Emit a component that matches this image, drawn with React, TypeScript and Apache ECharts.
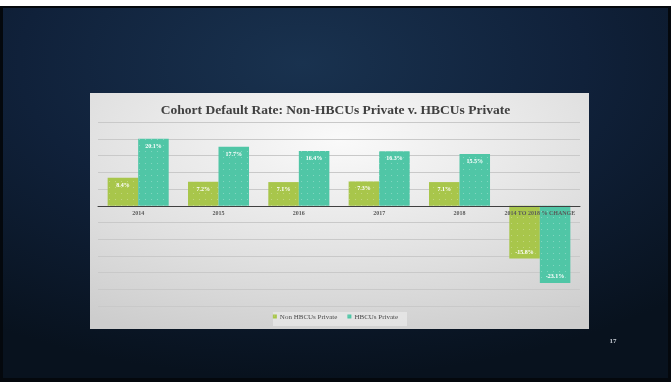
import React, { useEffect, useRef } from "react";
import * as echarts from "echarts";

const categories = ["2014", "2015", "2016", "2017", "2018", "2014 TO 2018 % CHANGE"];
const nonHbcuPrivate = [8.4, 7.2, 7.1, 7.3, 7.1, -15.8];
const hbcuPrivate = [20.1, 17.7, 16.4, 16.3, 15.5, -23.1];
const seriesNames = ["Non HBCUs Private", "HBCUs Private"];
const titleText = "Cohort Default Rate: Non-HBCUs Private v. HBCUs Private";
const pageNumber = "17";

const SERIF = "'Liberation Serif', 'Times New Roman', serif";

function makeData(values: number[]) {
  return values.map((v) => ({
    value: v,
    label: { position: v < 0 ? "insideBottom" : "insideTop" },
  }));
}

export default function App() {
  const ref = useRef<HTMLDivElement>(null);
  useEffect(() => {
    if (!ref.current) return;
    const chart = echarts.init(ref.current, null, { renderer: "svg" });
    const decal = (c: string) => ({
      symbol: "rect",
      symbolSize: 0.35,
      dashArrayX: 3,
      dashArrayY: 3,
      color: c,
    });
    const labelStyle = {
      show: true,
      distance: 4,
      color: "#ffffff",
      fontFamily: SERIF,
      fontWeight: "bold",
      fontSize: 6,
      formatter: (p: any) => `${Number(p.value).toFixed(1)}%`,
    };
    chart.setOption({
      animation: false,
      graphic: [
        { type: "rect", z: -10, shape: { x: 0, y: 0, width: 671, height: 382 }, style: { fill: "#ffffff" } },
        { type: "rect", z: -10, shape: { x: 0, y: 6, width: 671, height: 376 }, style: { fill: "#04080d" } },
        {
          type: "rect",
          z: -10,
          shape: { x: 3, y: 8, width: 665, height: 370 },
          style: {
            fill: new echarts.graphic.RadialGradient(0.45, 0.15, 0.85, [
              { offset: 0, color: "#19324f" },
              { offset: 0.5, color: "#10213a" },
              { offset: 1, color: "#08121e" },
            ]),
          },
        },
        {
          type: "rect",
          z: -9,
          shape: { x: 90, y: 93, width: 499, height: 236 },
          style: {
            fill: new echarts.graphic.RadialGradient(0.5, 0.2, 0.9, [
              { offset: 0, color: "#fafafa" },
              { offset: 0.5, color: "#e4e4e4" },
              { offset: 1, color: "#cdcdcd" },
            ]),
          },
        },
        {
          type: "rect",
          z: -8,
          shape: { x: 273, y: 312, width: 134, height: 14 },
          style: { fill: "rgba(240,240,240,0.55)" },
        },
        {
          type: "text",
          x: 613,
          y: 341,
          style: {
            text: pageNumber,
            fill: "#c7ccd4",
            font: `bold 7px ${SERIF}`,
            align: "center",
            verticalAlign: "middle",
          },
        },
      ],
      title: {
        text: titleText,
        left: "center",
        top: 97,
        textStyle: {
          fontFamily: SERIF,
          fontWeight: "bold",
          fontSize: 13.5,
          color: "#404040",
        },
      },
      grid: [
        { left: 98, right: 91, top: 122.3, bottom: 76, containLabel: false },
        { left: 98, right: 91, top: 122.3, bottom: 176.7, containLabel: false },
      ],
      legend: {
        bottom: 57,
        left: "center",
        itemWidth: 4,
        itemHeight: 4,
        itemGap: 10,
        icon: "rect",
        textStyle: { fontFamily: SERIF, fontSize: 7, color: "#4a4a4a", padding: [0, 0, 0, -2] },
        data: seriesNames,
      },
      xAxis: [
        {
          type: "category",
          gridIndex: 0,
          data: categories,
          z: 5,
          axisLine: { show: true, onZero: true, lineStyle: { color: "#404040", width: 1 } },
          axisTick: { show: false },
          axisLabel: { show: false },
        },
        {
          type: "category",
          gridIndex: 1,
          data: categories,
          position: "bottom",
          z: 10,
          axisLine: { show: false },
          axisTick: { show: false },
          axisLabel: {
            interval: 0,
            margin: 5,
            fontFamily: SERIF,
            fontWeight: "bold",
            fontSize: 6,
            color: "#595959",
          },
        },
      ],
      yAxis: [
        {
          type: "value",
          gridIndex: 0,
          min: -30,
          max: 25,
          interval: 5,
          axisLabel: { show: false },
          axisLine: { show: false },
          axisTick: { show: false },
          splitLine: { lineStyle: { color: "#c9c9c9", width: 1 } },
        },
        {
          type: "value",
          gridIndex: 1,
          min: 0,
          max: 25,
          show: false,
          splitLine: { show: false },
        },
      ],
      series: [
        {
          name: seriesNames[0],
          type: "bar",
          data: makeData(nonHbcuPrivate),
          barGap: "0%",
          barCategoryGap: "24%",
          itemStyle: { color: "#a8c64b", decal: decal("rgba(255,255,255,0.28)") },
          label: labelStyle,
        },
        {
          name: seriesNames[1],
          type: "bar",
          data: makeData(hbcuPrivate),
          barGap: "0%",
          barCategoryGap: "24%",
          itemStyle: { color: "#50c6a6", decal: decal("rgba(255,255,255,0.28)") },
          label: labelStyle,
        },
      ],
    });
    return () => chart.dispose();
  }, []);
  return (
    <div
      ref={ref}
      style={{ position: "fixed", left: 0, top: 0, width: 671, height: 382 }}
    />
  );
}
